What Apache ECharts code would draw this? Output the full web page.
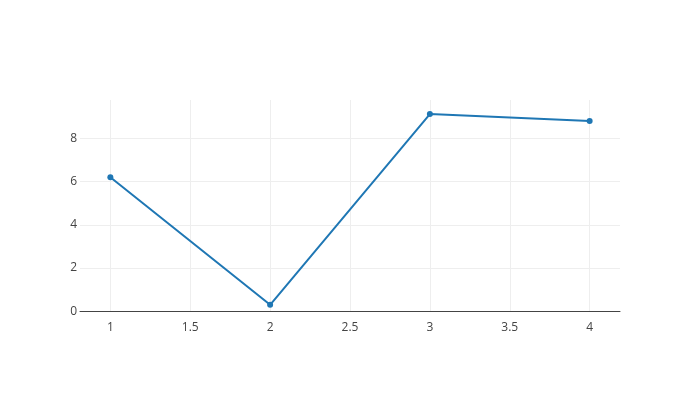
<!DOCTYPE html>
<html>
<head>
<meta charset="utf-8">
<script src="https://cdn.jsdelivr.net/npm/echarts@6/dist/echarts.min.js"></script>
<style>html,body{margin:0;padding:0;background:#fff}#c{width:700px;height:400px}</style>
</head>
<body>
<div id="c"></div>
<script>
var xValues = [1, 2, 3, 4];
var yValues = [6.2, 0.3, 9.12, 8.8];
var xTicks = [1, 1.5, 2, 2.5, 3, 3.5, 4];
var yTicks = [0, 2, 4, 6, 8];

var chart = echarts.init(document.getElementById('c'), null, {renderer: 'canvas'});
var font = '"Open Sans", verdana, arial, sans-serif';
chart.setOption({
  animation: false,
  backgroundColor: '#fff',
  grid: {left: 80, right: 80, top: 100, bottom: 88.7, containLabel: false},
  xAxis: {
    type: 'value', min: 0.81, max: 4.19,
    axisLine: {show: true, onZero: true, lineStyle: {color: '#444', width: 1}},
    axisTick: {show: false, customValues: xTicks},
    axisLabel: {customValues: xTicks, color: '#444', fontSize: 12, fontFamily: font, margin: 10},
    splitLine: {show: true, lineStyle: {color: '#eee', width: 1}}
  },
  yAxis: {
    type: 'value', min: 0, max: 9.77,
    axisLine: {show: false},
    axisTick: {show: false, customValues: yTicks},
    axisLabel: {customValues: yTicks, color: '#444', fontSize: 12, fontFamily: font, margin: 3},
    splitLine: {show: true, lineStyle: {color: '#eee', width: 1}}
  },
  series: [{
    type: 'line',
    data: xValues.map(function (x, i) { return [x, yValues[i]]; }),
    lineStyle: {color: '#1f77b4', width: 2},
    itemStyle: {color: '#1f77b4'},
    symbol: 'circle', symbolSize: 6, showSymbol: true
  }]
});
</script>
</body>
</html>
